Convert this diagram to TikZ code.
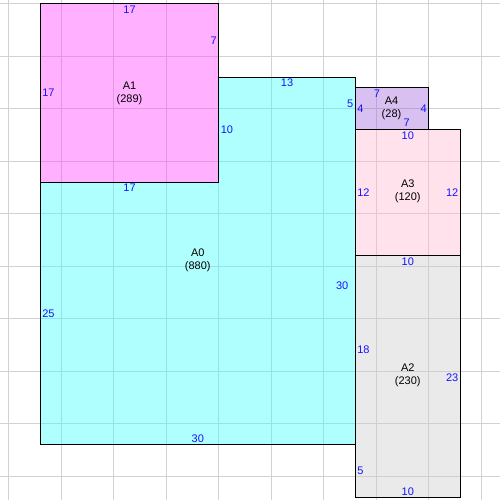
\documentclass[tikz,border=0pt]{standalone}
\usepackage{fontspec}
\setmainfont{Liberation Sans}
\usepackage{tikz}
\definecolor{fillA0}{RGB}{58,255,255}
\definecolor{fillA1}{RGB}{255,58,255}
\definecolor{fillA2}{RGB}{203,203,203}
\definecolor{fillA3}{RGB}{255,183,208}
\definecolor{fillA4}{RGB}{158,98,218}
\definecolor{gridgray}{RGB}{210,210,210}
\definecolor{lenblue}{RGB}{20,20,255}

\begin{document}
\begin{tikzpicture}[x=10.5pt,y=-10.5pt,
  gridline/.style={draw=gridgray,line width=1pt},
  room/.style={draw=black,line width=1pt,fill opacity=0.4,draw opacity=1},
  roomname/.style={align=center,font=\fontsize{11}{13}\selectfont,inner sep=0pt},
  len/.style={text=lenblue,font=\fontsize{11}{12}\selectfont,inner sep=1.8pt}]

  \useasboundingbox (-3.838,-0.352) rectangle (43.781,47.267);

  % grid
  \foreach \i in {0,...,9} {
    \draw[gridline] (-3+5*\i,-0.352) -- (-3+5*\i,47.267);
    \draw[gridline] (-3.838,5*\i) -- (43.781,5*\i);
  }

  % rooms
  \filldraw[room,fill=fillA1] (0,0) rectangle (17,17);
  \filldraw[room,fill=fillA0] (0,17) -- (17,17) -- (17,7) -- (30,7)
    -- (30,42) -- (0,42) -- cycle;
  \filldraw[room,fill=fillA4] (30,8) rectangle (37,12);
  \filldraw[room,fill=fillA3] (30,12) rectangle (40,24);
  \filldraw[room,fill=fillA2] (30,24) rectangle (40,47);

  % names
  \node[roomname] (A0) at (15,24.45) {A0\\(880)};
  \node[roomname] (A1) at (8.5,8.5) {A1\\(289)};
  \node[roomname] (A2) at (35,35.4) {A2\\(230)};
  \node[roomname] (A3) at (35,17.9) {A3\\(120)};
  \node[roomname] (A4) at (33.45,9.95) {A4\\(28)};

  % lengths A1
  \node[len,below] (a1t) at (8.5,0) {17};
  \node[len,right] (a1l) at (0,8.5) {17};
  \node[len,left]  (a1r) at (17,3.5) {7};
  % lengths A0
  \node[len,below] (a0t1) at (8.5,17) {17};
  \node[len,right] (a0l1) at (17,12) {10};
  \node[len,below] (a0t2) at (23.5,7) {13};
  \node[len,left]  (a0r1) at (30,9.5) {5};
  \node (a0r2) [len] at (28.75,26.9) {30};
  \node[len,above] (a0b) at (15,42) {30};
  \node[len,right] (a0l2) at (0,29.5) {25};
  % lengths A4
  \node (a4t) [len] at (32.07,8.55) {7};
  \node[len,right] (a4l) at (30,10) {4};
  \node[len,left]  (a4r) at (37,10) {4};
  \node (a4b) [len] at (34.9,11.35) {7};
  % lengths A3
  \node[len,below] (a3t) at (35,12) {10};
  \node[len,right] (a3l) at (30,18) {12};
  \node[len,left]  (a3r) at (40,18) {12};
  % lengths A2
  \node[len,below] (a2t) at (35,24) {10};
  \node[len,right] (a2l1) at (30,33) {18};
  \node[len,right] (a2l2) at (30,44.5) {5};
  \node[len,left]  (a2r) at (40,35.6) {23};
  \node[len,above] (a2b) at (35,47) {10};
\end{tikzpicture}
\end{document}
